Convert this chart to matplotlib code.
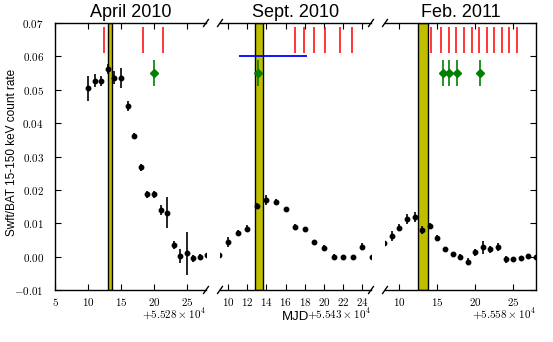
import numpy as np
import matplotlib
matplotlib.use('Agg')
import matplotlib.pyplot as plt
from matplotlib.ticker import MultipleLocator, FuncFormatter

plt.rcParams['font.family'] = ['Liberation Sans', 'DejaVu Sans']
plt.rcParams['mathtext.fontset'] = 'cm'

# panel setup: MJD base, x limits (days after base), titles, tick step
bases = [55280, 55430, 55580]
xlims = [(5, 27.9), (9.15, 24.9), (8.1, 28.0)]
titles = ['April 2010', 'Sept. 2010', 'Feb. 2011']
offset_labels = [r'$+5.528\times10^{4}$', r'$+5.543\times10^{4}$', r'$+5.558\times10^{4}$']
tick_steps = [5, 2, 5]

# BAT light curve, days after base
days1 = [10, 11, 12, 13, 14, 15, 16, 17, 18, 19, 20, 21, 22, 23, 24, 25, 26, 27, 28]
rate1 = [0.0504, 0.0527, 0.0527, 0.0561, 0.0536, 0.0534, 0.0451, 0.0361, 0.0268, 0.0187,
         0.0187, 0.0140, 0.0132, 0.0035, 0.0002, 0.0010, -0.0005, 0.0000, 0.0005]
err1 = [0.0037, 0.0020, 0.0015, 0.0015, 0.0020, 0.0030, 0.0015, 0.0010, 0.0010, 0.0010,
        0.0010, 0.0015, 0.0046, 0.0012, 0.0020, 0.0064, 0.0010, 0.0008, 0.0008]

days2 = [9, 10, 11, 12, 13, 14, 15, 16, 17, 18, 19, 20, 21, 22, 23, 24, 25]
rate2 = [0.0005, 0.0043, 0.0071, 0.0084, 0.0152, 0.0170, 0.0164, 0.0143, 0.0090, 0.0083,
         0.0045, 0.0026, 0.0000, -0.0002, 0.0000, 0.0030, -0.0001]
err2 = [0.0010, 0.0015, 0.0010, 0.0010, 0.0010, 0.0015, 0.0008, 0.0005, 0.0008, 0.0006,
        0.0005, 0.0008, 0.0008, 0.0008, 0.0006, 0.0010, 0.0008]

days3 = [8, 9, 10, 11, 12, 13, 14, 15, 16, 17, 18, 19, 20, 21, 22, 23, 24, 25, 26, 27, 28]
rate3 = [0.0040, 0.0061, 0.0087, 0.0112, 0.0120, 0.0079, 0.0092, 0.0056, 0.0022, 0.0007,
         0.0000, -0.0015, 0.0013, 0.0028, 0.0022, 0.0028, -0.0008, -0.0006, -0.0004, 0.0002, -0.0002]
err3 = [0.0010, 0.0015, 0.0010, 0.0015, 0.0015, 0.0012, 0.0010, 0.0010, 0.0008, 0.0008,
        0.0008, 0.0010, 0.0010, 0.0020, 0.0010, 0.0012, 0.0010, 0.0006, 0.0006, 0.0006, 0.0006]

# shaded intervals (days after base)
bands = [(13.0, 13.6), (12.8, 13.6), (12.5, 13.75)]

# red markers (days after base)
red1 = [12.4, 18.3, 21.4]
red2 = [17.0, 17.9, 19.0, 20.1, 21.7, 22.9]
red3 = [14.1, 15.5, 16.5, 17.5, 18.5, 19.5, 20.5, 21.5, 22.5, 23.5, 24.4, 25.5]
red_lo, red_hi = 0.061, 0.0688

# green points
green1 = [20.0]
green2 = [13.1]
green3 = [15.7, 16.6, 17.6, 20.6]
green_rate, green_err = 0.055, 0.004

# blue interval in panel 2
blue_x = (11.1, 18.2)
blue_y = 0.06

days = [days1, days2, days3]
rates = [rate1, rate2, rate3]
errs = [err1, err2, err3]
reds = [red1, red2, red3]
greens = [green1, green2, green3]

fig = plt.figure(figsize=(5.53, 3.42), dpi=100)
W, H = 151 / 553, 267 / 342
lefts = [55 / 553, 220 / 553, 385 / 553]
bottom = 52 / 342

axes = []
for i in range(3):
    ax = fig.add_axes([lefts[i], bottom, W, H])
    b = bases[i]
    ax.axvspan(b + bands[i][0], b + bands[i][1], facecolor='y', edgecolor='k', lw=1.0, zorder=1)
    ax.vlines(np.array(reds[i]) + b, red_lo, red_hi, color='r', lw=1.1, zorder=2)
    ax.errorbar(np.array(days[i]) + b, rates[i], yerr=errs[i], fmt='o', color='k',
                ms=3.2, elinewidth=1.2, capsize=0, zorder=3)
    g = np.array(greens[i]) + b
    ax.errorbar(g, [green_rate] * len(g), yerr=green_err, fmt='D', color='green',
                ms=4.2, elinewidth=1.2, capsize=0, zorder=4)
    if i == 1:
        ax.hlines(blue_y, b + blue_x[0], b + blue_x[1], color='b', lw=1.3, zorder=4)

    ax.set_xlim(b + xlims[i][0], b + xlims[i][1])
    ax.set_ylim(-0.01, 0.07)
    ax.xaxis.set_major_locator(MultipleLocator(tick_steps[i]))
    ax.xaxis.set_major_formatter(FuncFormatter(lambda v, p, b=b: '$%d$' % round(v - b)))
    ax.yaxis.set_major_locator(MultipleLocator(0.01))
    ax.yaxis.set_major_formatter(FuncFormatter(lambda v, p: '$%.2f$' % (round(v, 2) + 0.0)))
    ax.tick_params(axis='x', direction='in', length=4, width=0.8, top=True, bottom=True,
                   labelsize=8, pad=4)
    ax.tick_params(axis='y', direction='in', length=4, width=0.8, labelsize=8, pad=8)
    for s in ax.spines.values():
        s.set_linewidth(1.0)
    ax.set_title(titles[i], fontsize=13, pad=4)
    ax.text(1.0, -0.092, offset_labels[i], transform=ax.transAxes, ha='right', va='center',
            fontsize=8)
    axes.append(ax)

ax1, ax2, ax3 = axes
ax1.spines['right'].set_visible(False)
ax1.tick_params(axis='y', left=True, right=False)
ax2.spines['left'].set_visible(False)
ax2.spines['right'].set_visible(False)
ax2.tick_params(axis='y', left=False, right=False, labelleft=False)
ax3.spines['left'].set_visible(False)
ax3.tick_params(axis='y', left=False, right=True, labelleft=False, labelright=False)

# break marks
dx, dy = 0.016, 0.013
for ax, sides in [(ax1, [1]), (ax2, [0, 1]), (ax3, [0])]:
    for xs in sides:
        for ys in [0, 1]:
            ax.plot((xs - dx, xs + dx), (ys - dy, ys + dy), transform=ax.transAxes,
                    color='k', lw=1.0, clip_on=False)

ax2.text(0.5, -0.1, 'MJD', transform=ax2.transAxes, ha='center', va='center', fontsize=9.5)
fig.text(12.5 / 553, 1 - 152 / 342, 'Swft/BAT 15-150 keV count rate', rotation=90,
         ha='center', va='center', fontsize=8.5)

fig.savefig('out.png', dpi=100)
